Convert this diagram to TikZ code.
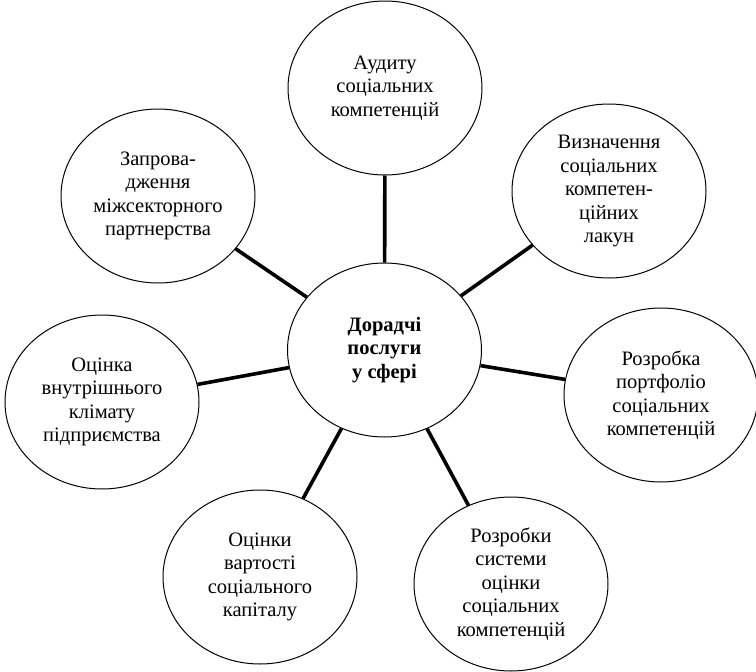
\documentclass[tikz,border=0pt]{standalone}
\usepackage{fontspec}
\setmainfont{Liberation Serif}
\usetikzlibrary{shapes.geometric}

\tikzset{
  bubble/.style={ellipse, draw=black, line width=1pt, fill=white,
    minimum width=194pt, minimum height=174pt, inner sep=0pt,
    align=center, font=\fontsize{20.5}{23.5}\selectfont},
  hub/.style={bubble, font=\fontsize{20.5}{23.5}\selectfont\bfseries},
  spoke/.style={line width=3.6pt, black}
}

\begin{document}
\begin{tikzpicture}[x=1pt, y=-1pt]
  \useasboundingbox (0,0) rectangle (756,672);

  % central hub
  \node[hub] (c) at (384.5,350) {Дорадчі\\послуги\\у сфері};

  % surrounding services
  \node[bubble] (top) at (385,88)  {Аудиту\\соціальних\\компетенцій};
  \node[bubble] (tr)  at (609,191) {Визначення\\соціальних\\компетен-\\ційних\\лакун};
  \node[bubble] (r)   at (661,395) {Розробка\\портфоліо\\соціальних\\компетенцій};
  \node[bubble] (br)  at (511,584) {Розробки\\системи\\оцінки\\соціальних\\компетенцій};
  \node[bubble] (bl)  at (260,577) {Оцінки\\вартості\\соціального\\капіталу};
  \node[bubble] (l)   at (102,402) {Оцінка\\внутрішнього\\клімату\\підприємства};
  \node[bubble] (tl)  at (158,196) {Запрова-\\дження\\міжсекторного\\партнерства};

  % spokes
  \foreach \n in {top,tr,r,br,bl,l,tl}
    \draw[spoke] (c) -- (\n);
\end{tikzpicture}
\end{document}
